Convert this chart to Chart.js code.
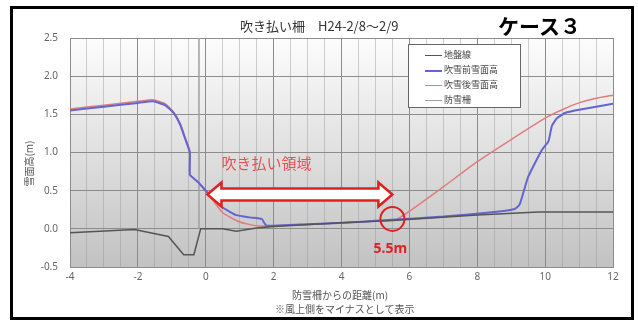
<!DOCTYPE html>
<html>
<head>
<meta charset="utf-8">
<script src="https://cdn.jsdelivr.net/npm/chart.js@4"></script>
<style>
  body { margin: 0; background: #fff; font-family: "Noto Sans CJK JP", "Noto Sans", sans-serif; }
  #wrap { position: relative; width: 638px; height: 320px; }
  #frame { position: absolute; left: 10px; top: 6px; width: 618px; height: 308px; border: 3px solid #000; }
  #chart { position: absolute; left: 0; top: 0; }
  .txt { position: absolute; white-space: nowrap; }
  #title { left: 240px; top: 16px; font-size: 13px; color: #333; }
  #case { left: 498px; top: 10px; font-size: 21px; font-weight: bold; color: #000; font-family: "Noto Sans CJK JP", sans-serif; }
  #xt1 { left: 292px; top: 287px; font-size: 10px; color: #555; }
  #xt2 { left: 275px; top: 301px; font-size: 10px; color: #555; }
  #yt { left: 0px; top: 156px; font-size: 10px; color: #555; transform: rotate(-90deg); transform-origin: center; width: 56px; text-align: center; }
  #legend { position: absolute; left: 408px; top: 44px; width: 111px; height: 62px; background: #fff; border: 1px solid #666; }
  .row { position: absolute; left: 16px; font-size: 9px; color: #444; height: 12px; line-height: 12px; }
  .row i { display: inline-block; width: 17px; height: 0; vertical-align: middle; margin-right: 2px; }
</style>
</head>
<body>
<div id="wrap">
  <canvas id="chart" width="638" height="320"></canvas>
  <div id="frame"></div>
  <div class="txt" id="title">吹き払い柵　H24-2/8～2/9</div>
  <div class="txt" id="case">ケース３</div>
  <div class="txt" id="xt1">防雪柵からの距離(m)</div>
  <div class="txt" id="xt2">※風上側をマイナスとして表示</div>
  <div class="txt" id="yt">雪面高(m)</div>
  <div id="legend"></div>
</div>
<script>
// ground line (地盤線)
const groundX = [-4, -2.1, -1.1, -0.65, -0.35, -0.15, 0.5, 0.9, 1.5, 2, 4, 5.5, 8, 9.8, 12];
const groundY = [-0.05, -0.01, -0.1, -0.34, -0.34, 0.0, 0.0, -0.03, 0.01, 0.03, 0.08, 0.11, 0.18, 0.22, 0.22];

// snow surface before storm (吹雪前雪面高)
const beforeX = [-4, -3, -2, -1.55, -1.2, -0.95, -0.75, -0.6, -0.47, -0.47, -0.35, -0.2, 0.04, 0.5, 0.9, 1.3, 1.65, 1.72, 1.8, 3, 4.5, 5.5, 7, 8.5, 9.1, 9.25, 9.5, 9.9, 10.1, 10.2, 10.35, 10.6, 11, 11.5, 12];
const beforeY = [1.55, 1.6, 1.65, 1.67, 1.62, 1.52, 1.36, 1.17, 1.0, 0.71, 0.66, 0.6, 0.48, 0.28, 0.18, 0.15, 0.13, 0.08, 0.04, 0.06, 0.09, 0.12, 0.16, 0.22, 0.26, 0.32, 0.68, 1.03, 1.15, 1.35, 1.45, 1.52, 1.56, 1.6, 1.64];

// snow surface after storm (吹雪後雪面高)
const afterX = [-4, -3, -2, -1.55, -1.2, -0.95, -0.75, -0.6, -0.47, -0.47, -0.35, -0.2, 0.04, 0.5, 1.0, 1.5, 2, 3, 4.5, 5.6, 6, 7, 8, 9, 10, 10.5, 11, 11.5, 12];
const afterY = [1.57, 1.62, 1.67, 1.69, 1.64, 1.53, 1.38, 1.19, 1.02, 0.71, 0.66, 0.6, 0.48, 0.21, 0.09, 0.04, 0.04, 0.06, 0.09, 0.12, 0.23, 0.55, 0.88, 1.17, 1.45, 1.56, 1.65, 1.71, 1.75];

// snow fence (防雪柵)
const fenceX = [-0.2, -0.2];
const fenceY = [0, 2.5];

const seriesNames = ["地盤線", "吹雪前雪面高", "吹雪後雪面高", "防雪柵"];
const seriesColors = ["#555555", "#6464d2", "#e07c7c", "#a0a0a0"];

// annotation values
const regionLabel = "吹き払い領域";
const arrowFrom = 0.05;
const arrowTo = 5.5;
const arrowY = 0.45;
const markX = 5.5;
const markY = 0.13;
const markLabel = "5.5m";

const toPoints = (xs, ys) => xs.map((x, i) => ({ x: x, y: ys[i] }));

// legend box
const legend = document.getElementById("legend");
seriesNames.forEach((name, i) => {
  const row = document.createElement("div");
  row.className = "row";
  row.style.top = (4 + i * 15) + "px";
  row.innerHTML = `<i style="border-top:${i === 1 ? 2 : 1.5}px solid ${seriesColors[i]}"></i>${name}`;
  legend.appendChild(row);
});

const bgPlugin = {
  id: "bg",
  beforeDraw(chart) {
    const { ctx, chartArea: a } = chart;
    const g = ctx.createLinearGradient(0, a.top, 0, a.bottom);
    g.addColorStop(0, "#fdfdfd");
    g.addColorStop(1, "#c2c2c2");
    ctx.save();
    ctx.fillStyle = g;
    ctx.fillRect(a.left, a.top, a.right - a.left, a.bottom - a.top);
    ctx.restore();
  },
};

const notePlugin = {
  id: "note",
  afterDatasetsDraw(chart) {
    const { ctx, scales } = chart;
    const x1 = scales.x.getPixelForValue(arrowFrom);
    const x2 = scales.x.getPixelForValue(arrowTo);
    const y = scales.y.getPixelForValue(arrowY);
    const h = 6, hh = 12, hl = 14;
    ctx.save();
    ctx.beginPath();
    ctx.moveTo(x1, y);
    ctx.lineTo(x1 + hl, y - hh);
    ctx.lineTo(x1 + hl, y - h);
    ctx.lineTo(x2 - hl, y - h);
    ctx.lineTo(x2 - hl, y - hh);
    ctx.lineTo(x2, y);
    ctx.lineTo(x2 - hl, y + hh);
    ctx.lineTo(x2 - hl, y + h);
    ctx.lineTo(x1 + hl, y + h);
    ctx.lineTo(x1 + hl, y + hh);
    ctx.closePath();
    ctx.fillStyle = "#fff";
    ctx.fill();
    ctx.strokeStyle = "#e02020";
    ctx.lineWidth = 2.5;
    ctx.stroke();

    ctx.fillStyle = "#e85050";
    ctx.font = "15px 'Noto Sans CJK JP'";
    ctx.textBaseline = "middle";
    ctx.fillText(regionLabel, x1 + 14, y - 31);

    const cx = scales.x.getPixelForValue(markX);
    const cy = scales.y.getPixelForValue(markY);
    ctx.beginPath();
    ctx.arc(cx, cy, 12, 0, Math.PI * 2);
    ctx.strokeStyle = "#e02020";
    ctx.lineWidth = 2;
    ctx.stroke();

    ctx.fillStyle = "#e02020";
    ctx.font = "bold 14px 'Noto Sans'";
    ctx.textAlign = "center";
    ctx.fillText(markLabel, cx - 2, cy + 30);
    ctx.restore();
  },
};

new Chart(document.getElementById("chart"), {
  type: "scatter",
  data: {
    datasets: [
      { label: seriesNames[0], data: toPoints(groundX, groundY), borderColor: seriesColors[0], borderWidth: 1.5, tension: 0 },
      { label: seriesNames[1], data: toPoints(beforeX, beforeY), borderColor: seriesColors[1], borderWidth: 2, tension: 0.15 },
      { label: seriesNames[2], data: toPoints(afterX, afterY), borderColor: seriesColors[2], borderWidth: 1.5, tension: 0.15 },
      { label: seriesNames[3], data: toPoints(fenceX, fenceY), borderColor: seriesColors[3], borderWidth: 1.5, tension: 0 },
    ].map((d) => ({ ...d, showLine: true, pointRadius: 0, fill: false })),
  },
  options: {
    responsive: false,
    animation: false,
    layout: { padding: { left: 0, top: 38, right: 25, bottom: 0 } },
    plugins: { legend: { display: false }, tooltip: { enabled: false } },
    scales: {
      x: {
        type: "linear",
        min: -4,
        max: 12,
        afterFit: (s) => { s.height = 53; },
        ticks: {
          stepSize: 0.5,
          autoSkip: false,
          maxRotation: 0,
          color: "#666",
          font: { size: 10, family: "Noto Sans" },
          padding: 4,
          callback: (v) => (v % 2 === 0 ? String(v) : ""),
        },
        grid: {
          color: (c) => (c.tick && c.tick.value % 2 === 0 ? "#8c8c8c" : "rgba(150,150,150,0.45)"),
          drawTicks: false,
        },
        border: { color: "#8c8c8c" },
      },
      y: {
        min: -0.5,
        max: 2.5,
        afterFit: (s) => { s.width = 70; },
        ticks: {
          stepSize: 0.5,
          color: "#666",
          font: { size: 10, family: "Noto Sans" },
          padding: 12,
          callback: (v) => v.toFixed(1),
        },
        grid: { color: "#8c8c8c", drawTicks: false },
        border: { color: "#8c8c8c" },
      },
    },
  },
  plugins: [bgPlugin, notePlugin],
});
</script>
</body>
</html>
